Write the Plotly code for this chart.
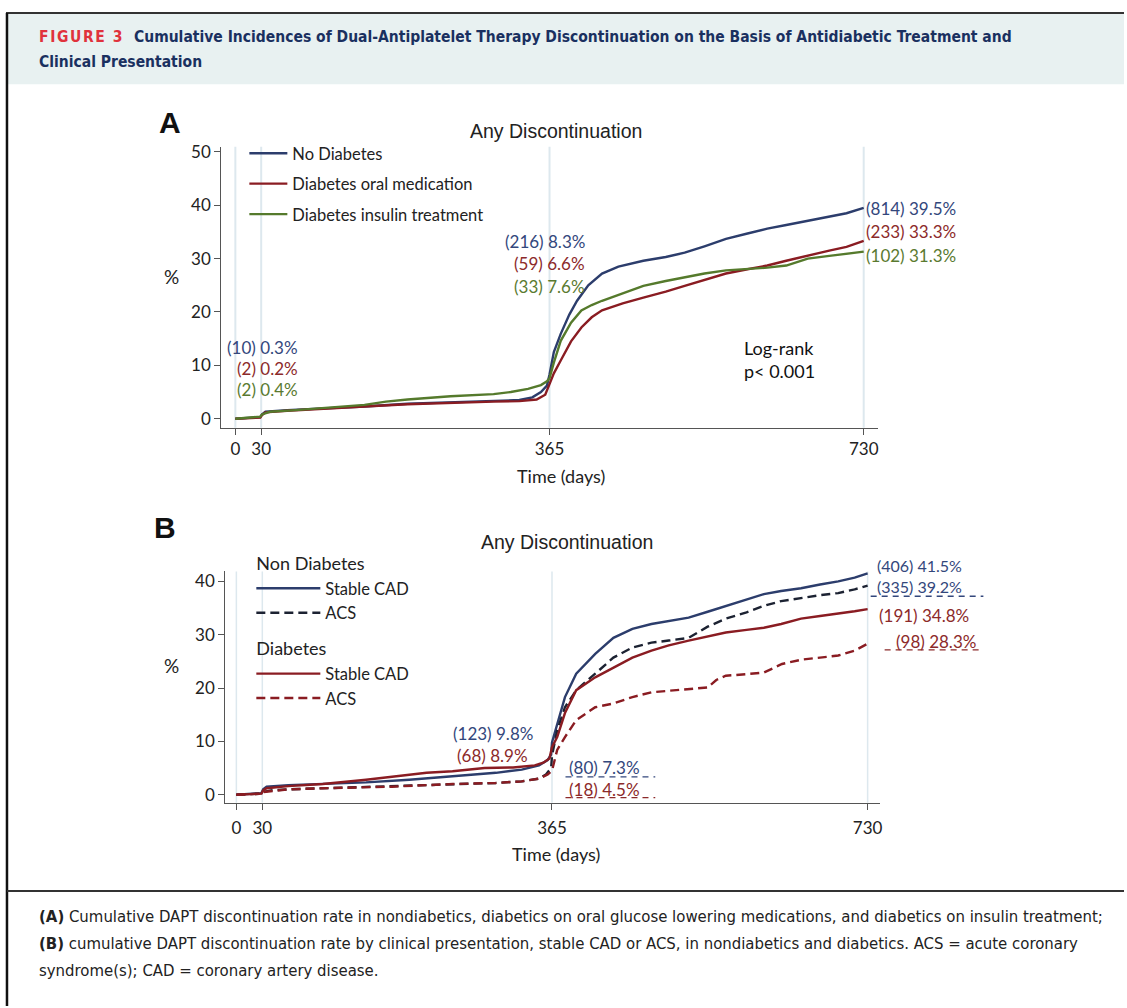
import plotly.graph_objects as go

W, H = 1127, 1008

# ---------------- DATA ----------------
ticks_days = [0, 30, 365, 730]
ticks_a = [0, 10, 20, 30, 40, 50]
ticks_b = [0, 10, 20, 30, 40]

# Panel A
a_names = ["No Diabetes", "Diabetes oral medication", "Diabetes insulin treatment"]
a_nodm_days = [0, 29, 31, 35, 60, 100, 150, 200, 250, 300, 330, 345, 355, 362, 365, 370, 378, 388, 397, 410, 426, 445, 474, 500, 522, 545, 570, 595, 618, 640, 665, 690, 710, 730]
a_nodm_vals = [0, 0.3, 0.8, 1.3, 1.6, 1.9, 2.3, 2.8, 3.1, 3.4, 3.5, 4.0, 5.0, 6.2, 8.3, 12.5, 15.9, 19.5, 22.1, 25.0, 27.2, 28.5, 29.6, 30.3, 31.1, 32.3, 33.7, 34.7, 35.6, 36.3, 37.1, 37.8, 38.5, 39.5]
a_oral_days = [0, 29, 31, 35, 60, 100, 150, 200, 250, 300, 330, 350, 360, 365, 370, 378, 390, 402, 414, 426, 450, 474, 500, 522, 545, 570, 595, 618, 640, 665, 690, 710, 730]
a_oral_vals = [0, 0.2, 0.7, 1.2, 1.5, 1.9, 2.3, 2.7, 3.0, 3.2, 3.3, 3.6, 4.5, 6.6, 8.5, 10.9, 14.5, 17.1, 19.0, 20.3, 21.6, 22.7, 23.8, 24.9, 26.0, 27.2, 28.0, 28.7, 29.6, 30.6, 31.5, 32.2, 33.3]
a_ins_days = [0, 29, 31, 40, 70, 100, 150, 175, 200, 250, 300, 320, 340, 355, 362, 365, 370, 378, 390, 402, 414, 426, 450, 474, 500, 522, 545, 570, 595, 618, 640, 665, 690, 710, 730]
a_ins_vals = [0, 0.4, 0.8, 1.3, 1.6, 2.0, 2.6, 3.2, 3.6, 4.2, 4.6, 5.0, 5.6, 6.3, 7.0, 7.6, 10.5, 14.6, 18.0, 20.3, 21.3, 22.1, 23.5, 24.9, 25.8, 26.5, 27.2, 27.8, 28.0, 28.3, 28.7, 30.0, 30.5, 30.9, 31.3]

a_lab30 = ["(10) 0.3%", "(2) 0.2%", "(2) 0.4%"]
a_lab365 = ["(216) 8.3%", "(59) 6.6%", "(33) 7.6%"]
a_lab730 = ["(814) 39.5%", "(233) 33.3%", "(102) 31.3%"]

# Panel B
b_names = ["Stable CAD", "ACS", "Stable CAD", "ACS"]
b_groups = ["Non Diabetes", "Diabetes"]
b_ns_days = [0, 29, 31, 35, 60, 100, 150, 200, 250, 300, 330, 350, 360, 364, 365, 371, 380, 393, 415, 436, 458, 480, 500, 523, 545, 566, 590, 610, 630, 653, 675, 696, 715, 730]
b_ns_vals = [0, 0.3, 1.0, 1.5, 1.8, 2.0, 2.3, 2.8, 3.4, 4.1, 4.7, 5.5, 6.5, 7.5, 9.8, 13.4, 18.3, 22.7, 26.4, 29.4, 31.1, 32.0, 32.6, 33.2, 34.3, 35.4, 36.6, 37.6, 38.2, 38.7, 39.4, 40.0, 40.7, 41.5]
b_na_days = [0, 29, 31, 40, 60, 100, 150, 200, 250, 300, 330, 350, 358, 364, 365, 371, 380, 393, 415, 436, 458, 480, 500, 523, 545, 566, 590, 610, 630, 653, 675, 696, 715, 730]
b_na_vals = [0, 0.2, 0.5, 0.8, 1.0, 1.2, 1.4, 1.7, 2.0, 2.2, 2.5, 3.0, 3.8, 5.0, 7.3, 12.1, 16.4, 19.6, 22.7, 25.7, 27.6, 28.5, 28.9, 29.4, 31.5, 33.0, 34.2, 35.4, 36.3, 36.9, 37.4, 37.8, 38.5, 39.2]
b_ds_days = [0, 29, 31, 35, 60, 100, 150, 180, 220, 250, 287, 320, 345, 355, 362, 365, 371, 380, 393, 415, 436, 458, 480, 500, 523, 545, 566, 590, 610, 630, 653, 675, 696, 715, 730]
b_ds_vals = [0, 0.2, 0.8, 1.2, 1.6, 2.0, 2.8, 3.4, 4.1, 4.4, 5.0, 5.1, 5.5, 6.0, 6.8, 8.9, 10.8, 15.3, 19.6, 22.0, 23.8, 25.7, 27.0, 28.0, 28.9, 29.7, 30.4, 30.9, 31.3, 32.0, 33.0, 33.5, 33.9, 34.4, 34.8]
b_da_days = [0, 29, 31, 60, 100, 180, 250, 300, 330, 350, 360, 365, 371, 380, 393, 415, 436, 458, 480, 500, 523, 545, 555, 566, 590, 610, 631, 653, 675, 696, 715, 730]
b_da_vals = [0, 0.2, 0.5, 1.0, 1.2, 1.5, 2.0, 2.2, 2.5, 3.0, 3.8, 4.5, 8.4, 10.8, 14.0, 16.4, 17.1, 18.3, 19.2, 19.5, 19.9, 20.1, 21.5, 22.3, 22.6, 22.9, 24.5, 25.3, 25.7, 26.1, 27.0, 28.3]

b_lab_mid = ["(123) 9.8%", "(68) 8.9%"]
b_lab_acs365 = ["(80) 7.3%", "(18) 4.5%"]
b_lab730 = ["(406) 41.5%", "(335) 39.2%", "(191) 34.8%", "(98) 28.3%"]

# ---------------- STYLE ----------------
NAVY = "#2c3d6c"
NAVY_T = "#33477c"
RED = "#8a1c22"
RED_T = "#8c2a2a"
GREEN = "#557a2c"
GREEN_T = "#5a7a30"
DARKDASH = "#1c2232"
REFC = "#dde8ee"
AX = "#555555"
TXT = "#222222"
FONT = "Lato"
HFONT = "DejaVu Sans Condensed, DejaVu Sans"

def py(p):
    return 1 - p / H

def pxx(p):
    return p / W

fig = go.Figure()

# Panel A traces
for d, v, n, c in zip([a_nodm_days, a_oral_days, a_ins_days],
                      [a_nodm_vals, a_oral_vals, a_ins_vals], a_names, [NAVY, RED, GREEN]):
    fig.add_trace(go.Scatter(x=d, y=v, mode="lines", name=n, legend="legend",
                             legendgroup=n, line=dict(color=c, width=2.4),
                             xaxis="x", yaxis="y"))

# Panel B traces
b_series = [
    (b_ns_days, b_ns_vals, b_names[0], NAVY, "solid", "nd", b_groups[0]),
    (b_na_days, b_na_vals, b_names[1], DARKDASH, "9px,5px", "nd", None),
    (b_ds_days, b_ds_vals, b_names[2], RED, "solid", "dm", b_groups[1]),
    (b_da_days, b_da_vals, b_names[3], RED, "9px,5px", "dm", None),
]
for d, v, n, c, dash, g, gt in b_series:
    kw = {}
    if gt:
        kw["legendgrouptitle"] = dict(text=gt, font=dict(family=FONT, size=18, color=TXT))
    fig.add_trace(go.Scatter(x=d, y=v, mode="lines", name=n, legend="legend2",
                             legendgroup=g, line=dict(color=c, width=2.4, dash=dash),
                             xaxis="x2", yaxis="y2", **kw))

# reference lines
for t in ticks_days:
    fig.add_shape(type="line", xref="x", yref="y domain", x0=t, x1=t, y0=0, y1=1,
                  line=dict(color=REFC, width=2), layer="below")
    fig.add_shape(type="line", xref="x2", yref="y2 domain", x0=t, x1=t, y0=0, y1=1,
                  line=dict(color=REFC, width=1.5), layer="below")

axis_common = dict(showline=True, linecolor=AX, linewidth=1.3, ticks="outside", ticklen=6,
                   tickcolor=AX, tickwidth=1.3, showgrid=False, zeroline=False,
                   tickfont=dict(family=FONT, size=17, color=TXT))

fig.update_layout(
    width=W, height=H, margin=dict(l=0, r=0, t=0, b=0),
    paper_bgcolor="white", plot_bgcolor="rgba(0,0,0,0)",
    xaxis=dict(domain=[pxx(222), pxx(880)], range=[-16.2, 746.2], anchor="y",
               tickvals=ticks_days, **axis_common),
    yaxis=dict(domain=[py(425), py(142)], range=[-1.67, 50.93], anchor="x",
               tickvals=ticks_a, **axis_common),
    xaxis2=dict(domain=[pxx(226), pxx(882)], range=[-12.69, 743.9], anchor="y2",
                tickvals=ticks_days, ticklabelstandoff=4, **axis_common),
    yaxis2=dict(domain=[py(803), py(570)], range=[-1.49, 41.85], anchor="x2",
                tickvals=ticks_b, **axis_common),
    showlegend=True,
    legend=dict(x=pxx(245), y=py(131), xanchor="left", yanchor="top",
                bgcolor="rgba(0,0,0,0)", font=dict(family=FONT, size=16.5, color=TXT),
                tracegroupgap=6, traceorder="grouped", itemwidth=38),
    legend2=dict(x=pxx(252), y=py(543), xanchor="left", yanchor="top",
                 bgcolor="rgba(0,0,0,0)", font=dict(family=FONT, size=16.5, color=TXT),
                 tracegroupgap=10, traceorder="grouped", itemwidth=64),
)

ann = []
def A(xp, yp, text, size=17, color=TXT, xanchor="center", yanchor="middle", family=FONT):
    ann.append(dict(x=pxx(xp), y=py(yp), text=text, xref="paper", yref="paper", showarrow=False,
                    xanchor=xanchor, yanchor=yanchor, align="left", borderpad=0,
                    font=dict(family=family, size=size, color=color)))

# Header band & frame
fig.add_shape(type="rect", xref="paper", yref="paper", x0=pxx(8), x1=1, y0=py(79), y1=py(8),
              fillcolor="#e8f1f1", line=dict(width=0), layer="below")
fig.add_shape(type="line", xref="paper", yref="paper", x0=pxx(6), x1=1, y0=py(7), y1=py(7),
              line=dict(color="#333333", width=2))
fig.add_shape(type="line", xref="paper", yref="paper", x0=pxx(7), x1=pxx(7), y0=0, y1=py(7),
              line=dict(color="#111111", width=2.5))
fig.add_shape(type="line", xref="paper", yref="paper", x0=pxx(7), x1=1, y0=py(892), y1=py(892),
              line=dict(color="#333333", width=2))

A(38, 31, "<b><span style='letter-spacing:1.6px'>FIGURE 3</span></b>", size=15.5,
  color="#e0323c", xanchor="left", family=HFONT)
A(133, 31, "<b>Cumulative Incidences of Dual-Antiplatelet Therapy Discontinuation on the Basis of Antidiabetic Treatment and</b>",
  size=15.5, color="#1a3060", xanchor="left", family=HFONT)
A(38, 56, "<b>Clinical Presentation</b>", size=15.5, color="#1a3060", xanchor="left", family=HFONT)

# Caption
cap = ["<b>(A)</b> Cumulative DAPT discontinuation rate in nondiabetics, diabetics on oral glucose lowering medications, and diabetics on insulin treatment;",
       "<b>(B)</b> cumulative DAPT discontinuation rate by clinical presentation, stable CAD or ACS, in nondiabetics and diabetics. ACS = acute coronary",
       "syndrome(s); CAD = coronary artery disease."]
for i, line in enumerate(cap):
    A(38, 918 + 27 * i, line, size=16.6, color="#222222", xanchor="left", family=HFONT)

# Panel labels and titles
A(170, 117, "<b>A</b>", size=30, color="#111", family="Liberation Sans")
A(165, 526, "<b>B</b>", size=30, color="#111", family="Liberation Sans")
A(557, 126, "Any Discontinuation", size=19.5, family="Liberation Sans")
A(569, 540, "Any Discontinuation", size=19.5, family="Liberation Sans")
A(172, 273, "%", size=19)
A(172, 665, "%", size=19)
A(562, 474, "Time (days)", size=18)
A(557, 855, "Time (days)", size=18)

# Panel A labels
colsA = [NAVY_T, RED_T, GREEN_T]
for t, yp, c in zip(a_lab30, [344, 365, 387], colsA):
    A(300, yp, t, color=c, xanchor="right")
for t, yp, c in zip(a_lab365, [237, 260, 283], colsA):
    A(588, yp, t, color=c, xanchor="right")
for t, yp, c in zip(a_lab730, [204, 227, 251], colsA):
    A(867, yp, t, color=c, xanchor="left")
A(745, 356, "Log-rank<br>p&lt; 0.001", size=18, color="#111", xanchor="left")

# Panel B labels
A(535, 733, b_lab_mid[0], color=NAVY_T, xanchor="right")
A(530, 755, b_lab_mid[1], color=RED_T, xanchor="right")
A(570, 768, b_lab_acs365[0], color=NAVY_T, xanchor="left")
A(570, 790, b_lab_acs365[1], color=RED_T, xanchor="left")
A(878, 564, b_lab730[0], size=16, color=NAVY_T, xanchor="left")
A(878, 585, b_lab730[1], size=16, color=NAVY_T, xanchor="left")
A(880, 614, b_lab730[2], color=RED_T, xanchor="left")
A(897, 641, b_lab730[3], color=RED_T, xanchor="left")

# dashed underlines for ACS labels
for x0, x1, yp, c in [(567, 657, 777, NAVY_T), (567, 657, 798, RED_T),
                      (873, 986, 595, NAVY_T), (887, 986, 649, RED_T)]:
    fig.add_shape(type="line", xref="paper", yref="paper", x0=pxx(x0), x1=pxx(x1),
                  y0=py(yp), y1=py(yp), line=dict(color=c, width=1.4, dash="6px,5px"))

fig.update_layout(annotations=ann)
fig.write_html("out.html")
